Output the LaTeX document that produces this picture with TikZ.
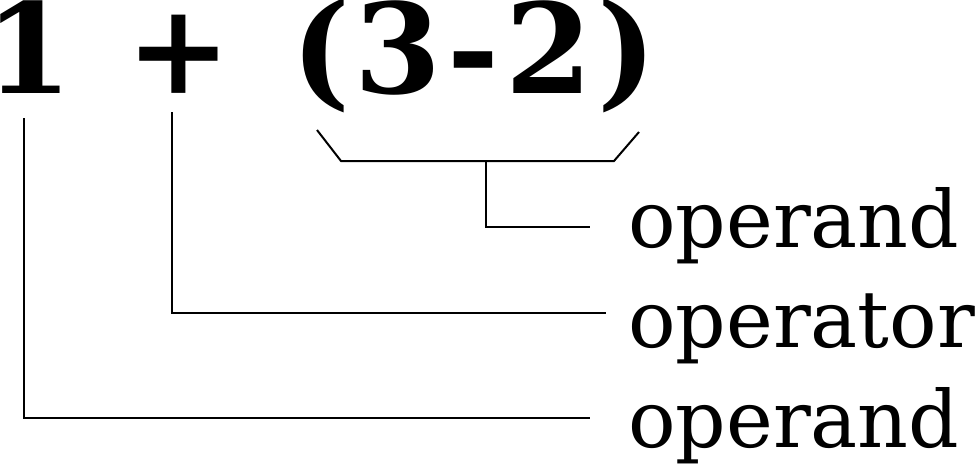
\documentclass[tikz,border=0pt]{standalone}
\usepackage{fontspec}
\setmainfont{DejaVu Serif}
\usetikzlibrary{positioning}

\begin{document}
\begin{tikzpicture}[x=1pt,y=-1pt]
	\tikzstyle{token}=[font=\fontsize{125}{125}\selectfont\bfseries,inner sep=0pt,anchor=base]
	\tikzstyle{tag}=[font=\fontsize{79}{79}\selectfont,inner sep=0pt,anchor=base west]
	\tikzstyle{link}=[draw=black,line width=2pt]

	\useasboundingbox (0,0) rectangle (980,464);

	%expression
	\node[token] (one) at (29,93) {1};
	\node[token] (plus) at (179,93) {+};
	\node[token] (lParen) at (321,93) {(};
	\node[token] (three) at (398,93) {3};
	\node[token] (minus) at (473,93) {-};
	\node[token] (two) at (549,93) {2};
	\node[token] (rParen) at (627,93) {)};

	%labels
	\node[tag] (opdTop) at (628,247) {operand};
	\node[tag] (opr) at (628,347) {operator};
	\node[tag] (opdBottom) at (628,447) {operand};

	%brace under the group
	\coordinate (braceA) at (317,130);
	\coordinate (braceB) at (341,161);
	\coordinate (braceC) at (614,161);
	\coordinate (braceD) at (639,132);
	\coordinate (braceMid) at (486,161);
	\coordinate (opdTopEnd) at (590,227);
	\draw[link] (braceA) -- (braceB) -- (braceC) -- (braceD);
	\draw[link] (braceMid) |- (opdTopEnd);

	%operator
	\coordinate (plusFoot) at (172,112);
	\coordinate (oprEnd) at (606,313);
	\draw[link] (plusFoot) |- (oprEnd);

	%first operand
	\coordinate (oneFoot) at (24,118);
	\coordinate (opdBottomEnd) at (590,418);
	\draw[link] (oneFoot) |- (opdBottomEnd);
\end{tikzpicture}
\end{document}
